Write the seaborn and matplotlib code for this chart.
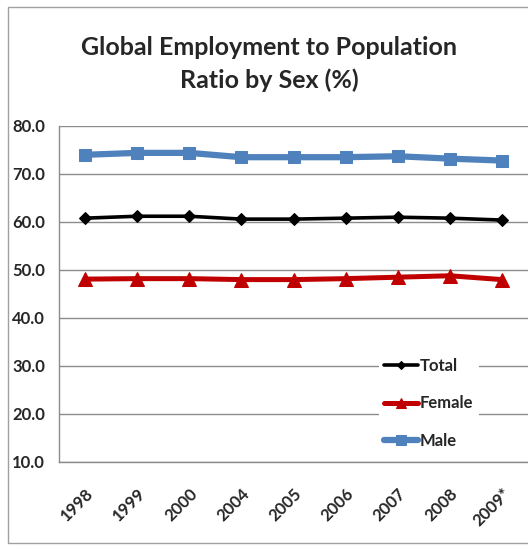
import matplotlib
matplotlib.use("Agg")
import matplotlib.pyplot as plt
from matplotlib.patches import Rectangle
import seaborn as sns
import pandas as pd

years = ["1998", "1999", "2000", "2004", "2005", "2006", "2007", "2008", "2009*"]
total = [60.8, 61.2, 61.2, 60.6, 60.6, 60.8, 61.0, 60.8, 60.4]
female = [48.1, 48.2, 48.2, 48.0, 48.0, 48.2, 48.5, 48.8, 48.0]
male = [74.0, 74.4, 74.4, 73.5, 73.5, 73.5, 73.7, 73.2, 72.8]
series_names = ["Total", "Female", "Male"]
y_ticks = [10, 20, 30, 40, 50, 60, 70, 80]

sns.set_theme(style="white")
plt.rcParams["font.family"] = ["Lato", "DejaVu Sans"]

df = pd.DataFrame({
    "Year": years * 3,
    "Ratio": total + female + male,
    "Series": [s for s in series_names for _ in years],
})

styles = {
    "Total": dict(color="#000000", marker="D", lw=2.6, ms=6),
    "Female": dict(color="#C00000", marker="^", lw=3.6, ms=10),
    "Male": dict(color="#4F81BD", marker="s", lw=4.5, ms=9),
}

fig = plt.figure(figsize=(5.28, 5.49), dpi=100)
ax = fig.add_axes([59 / 528, 87 / 549, 1 - 59 / 528, (462 - 126) / 549])

for name in series_names:
    st = styles[name]
    sns.lineplot(
        data=df[df["Series"] == name], x="Year", y="Ratio", ax=ax,
        color=st["color"], marker=st["marker"], linewidth=st["lw"],
        markersize=st["ms"], markeredgecolor=st["color"], label=name,
        sort=False,
    )

ax.set_xlim(-0.5, len(years) - 0.5)
ax.set_ylim(10, 80)
ax.set_yticks(y_ticks)
ax.set_yticklabels([f"{v:.1f}" for v in y_ticks], fontsize=12, fontweight="bold")
ax.set_xticks(range(len(years)))
ax.set_xticklabels(years, fontsize=12, fontweight="bold", rotation=45,
                   ha="right", rotation_mode="anchor")
ax.tick_params(axis="y", length=0, pad=10)
ax.tick_params(axis="x", length=0, pad=17)
ax.set_xlabel("")
ax.set_ylabel("")
ax.yaxis.grid(True, color="#8c8c8c", linewidth=1)
ax.xaxis.grid(False)
for side in ["top", "right"]:
    ax.spines[side].set_visible(False)
for side in ["left", "bottom"]:
    ax.spines[side].set_color("#8c8c8c")
    ax.spines[side].set_linewidth(1)

leg = ax.legend(loc="upper left", bbox_to_anchor=(0.665, 0.35), frameon=True,
                facecolor="white", edgecolor="none", framealpha=1,
                fontsize=12, labelspacing=1.3, handlelength=2.0,
                handletextpad=0.15, borderpad=0.3, markerscale=0.75)
for t in leg.get_texts():
    t.set_fontweight("bold")

fig.text(0.51, 0.883, "Global Employment to Population\nRatio by Sex (%)",
         ha="center", va="center", fontsize=18, fontweight="bold",
         linespacing=1.5)

fig.patches.append(Rectangle((8 / 528, 6 / 549), 1.2, 1 - 13 / 549,
                             transform=fig.transFigure, fill=False,
                             edgecolor="#a0a0a0", linewidth=1))

fig.savefig("out.png", dpi=100)
